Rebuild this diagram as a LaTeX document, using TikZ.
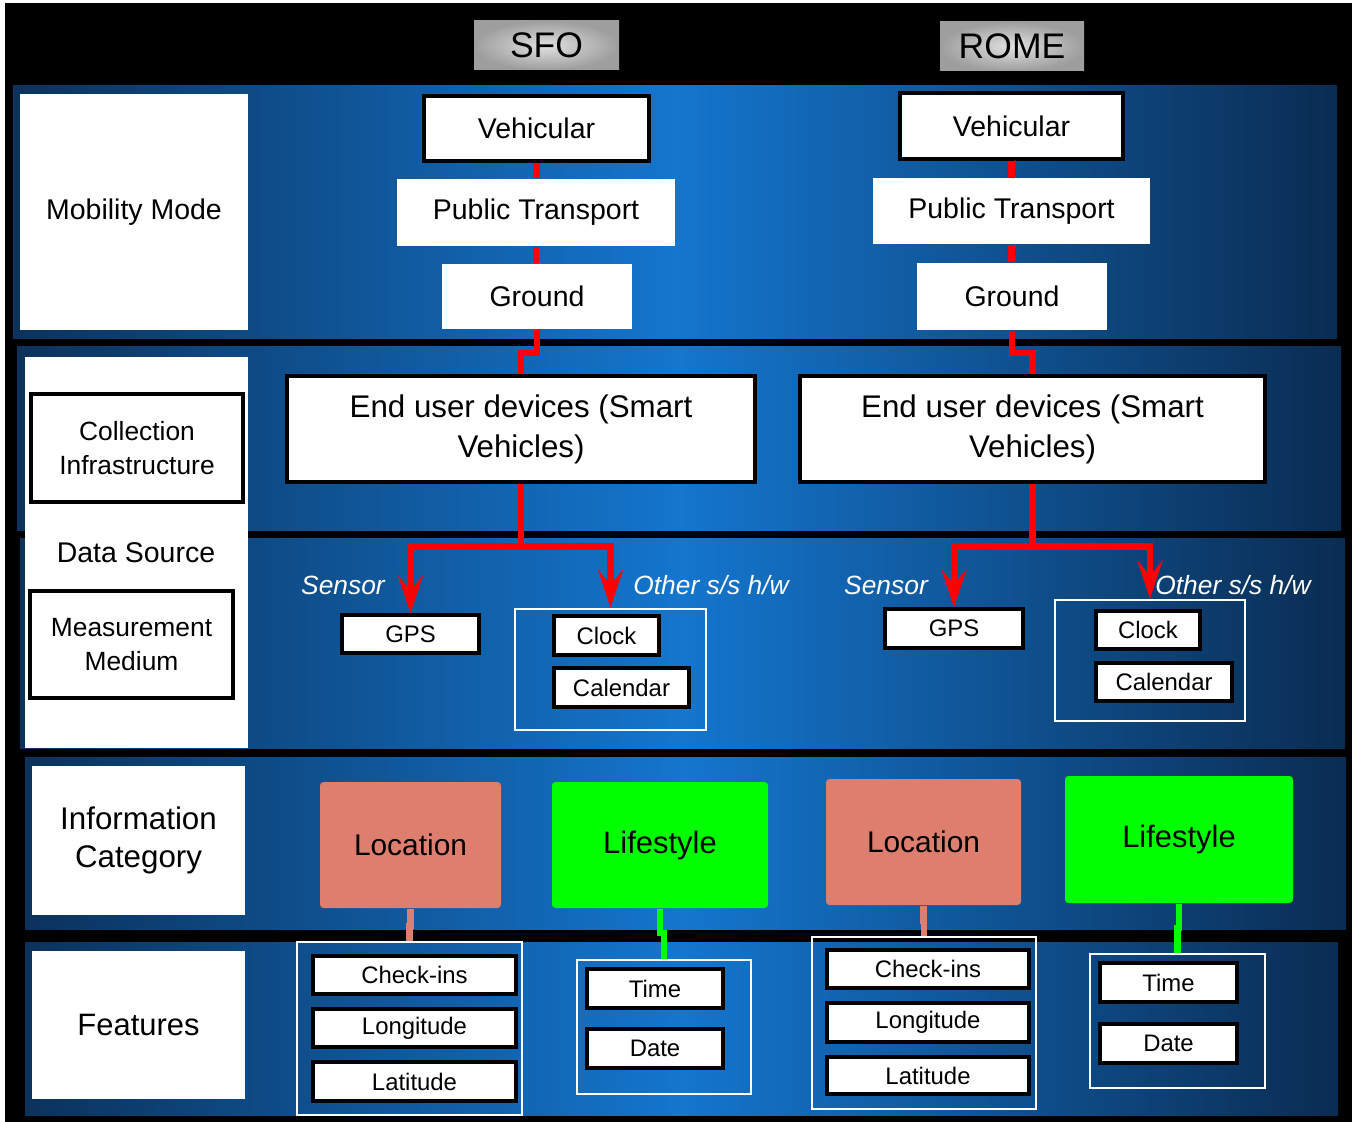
\documentclass[tikz,border=0pt]{standalone}
\usepackage{fontspec}
\setmainfont{Liberation Sans}
\usetikzlibrary{arrows.meta}
\definecolor{bandL}{RGB}{11,50,92}
\definecolor{bandM}{RGB}{20,118,206}
\definecolor{bandR}{RGB}{10,44,82}
\definecolor{salmon}{RGB}{222,126,110}
\definecolor{lime}{RGB}{0,255,0}
\def\fs#1#2{\fontsize{#1}{#2}\selectfont}
\def\cell[#1](#2,#3)(#4,#5)#6#7{\node[#1, minimum width={(#4-#2)*0.01cm}, minimum height={(#5-#3)*0.01cm}] (#6) at ({(#2+#4)/2},{(#3+#5)/2}) {#7};}

\begin{document}
\begin{tikzpicture}[x=0.01cm, y=-0.01cm,
		band/.style={left color=bandL, right color=bandR, middle color=bandM},
		plain/.style={fill=white, inner sep=0pt, align=center, font=\fs{8.1}{10}},
		framed/.style={plain, draw=black, line width=0.9pt},
		small/.style={framed, font=\fs{6.8}{8}},
		group/.style={draw=white, line width=0.7pt, inner sep=0pt},
		city/.style={inner sep=0pt, inner color=black!12, outer color=black!38, font=\fs{10.1}{12}},
		cat/.style={inner sep=0pt, rounded corners=1pt, font=\fs{8.5}{10}},
		hw/.style={white, font=\fs{7.5}{9}\itshape},
		link/.style={red, line width=1.8pt},
		loclink/.style={salmon, line width=1.8pt},
		lifelink/.style={lime, line width=1.8pt},
		tip/.style={-{Stealth[length=10.8pt, width=7.1pt, inset=4.3pt]}}]
			%%%%% START %%%%%
			\useasboundingbox (0,0) rectangle (1352,1122);
			\fill[white] (0,0) rectangle (1352,1122);
			\fill[black] (5,3) rectangle (1352,1122);
			
			% bands
			\shade[band] (13,86) rectangle (1337,339);
			\shade[band] (17,347) rectangle (1341,531);
			\shade[band] (20,539) rectangle (1345,748);
			\shade[band] (25,757) rectangle (1346,929);
			\shade[band] (25,942) rectangle (1338,1115);
			
			% left column
			\cell[plain](20,94)(248,330){mob}{Mobility Mode}
			\cell[plain](25,357)(248,748){src}{}
			\node[font=\fs{8.1}{10}] (srctxt) at (136,553) {Data Source};
			\cell[framed, font=\fs{7.5}{9.7}](31,394)(243,502){coll}{Collection\\Infrastructure}
			\cell[framed, font=\fs{7.5}{9.7}](30,591)(233,698){meas}{Measurement\\Medium}
			\cell[plain, font=\fs{8.9}{10.8}](32,766)(245,915){info}{Information\\Category}
			\cell[plain, font=\fs{8.8}{10.8}](32,951)(245,1099){feat}{Features}
			
			% SFO
			\cell[city](474,21)(619,70){sfo}{SFO}
			\cell[framed](424,96)(649,161){veh1}{Vehicular}
			\cell[plain](397,179)(675,246){pub1}{Public Transport}
			\cell[plain](442,264)(632,329){gnd1}{Ground}
			\cell[framed, font=\fs{8.9}{11.4}](287,376)(755,482){dev1}{End user devices (Smart\\Vehicles)}
			\cell[small](342,615)(479,653){gps1}{GPS}
			\cell[group](515,609)(706,730){oth1}{}
			\cell[small](554,616)(659,655){clk1}{Clock}
			\cell[small](554,668)(689,707){cal1}{Calendar}
			\node[hw] (sen1) at (343,585) {Sensor};
			\node[hw] (hw1) at (711,585) {Other s/s h/w};
			\cell[cat, fill=salmon](320,782)(501,908){loc1}{Location}
			\cell[cat, fill=lime, font=\fs{8.8}{10}](552,782)(768,908){life1}{Lifestyle}
			\cell[group](297,942)(522,1115){locg1}{}
			\cell[small](313,956)(516,994){chk1}{Check-ins}
			\cell[small](313,1009)(516,1047){lon1}{Longitude}
			\cell[small](313,1062)(516,1101){lat1}{Latitude}
			\cell[group](577,960)(751,1094){timg1}{}
			\cell[small](587,969)(723,1008){tim1}{Time}
			\cell[small](587,1029)(723,1068){dat1}{Date}
			
			% ROME
			\cell[city](940,22)(1084,71){rome}{ROME}
			\cell[framed](900,93)(1123,159){veh2}{Vehicular}
			\cell[plain](873,178)(1150,244){pub2}{Public Transport}
			\cell[plain](917,263)(1107,330){gnd2}{Ground}
			\cell[framed, font=\fs{8.9}{11.4}](800,376)(1265,482){dev2}{End user devices (Smart\\Vehicles)}
			\cell[small](885,609)(1023,648){gps2}{GPS}
			\cell[group](1055,600)(1245,721){oth2}{}
			\cell[small](1096,611)(1200,649){clk2}{Clock}
			\cell[small](1096,663)(1232,701){cal2}{Calendar}
			\node[hw] (sen2) at (886,585) {Sensor};
			\node[hw] (hw2) at (1233,585) {Other s/s h/w};
			\cell[cat, fill=salmon](826,779)(1021,905){loc2}{Location}
			\cell[cat, fill=lime, font=\fs{8.8}{10}](1065,776)(1293,903){life2}{Lifestyle}
			\cell[group](812,937)(1036,1109){locg2}{}
			\cell[small](827,950)(1029,988){chk2}{Check-ins}
			\cell[small](827,1003)(1029,1042){lon2}{Longitude}
			\cell[small](827,1057)(1029,1094){lat2}{Latitude}
			\cell[group](1090,954)(1265,1088){timg2}{}
			\cell[small](1100,963)(1237,1002){tim2}{Time}
			\cell[small](1100,1024)(1237,1063){dat2}{Date}
			
			% links
			\draw[link] (veh1.south) -- (veh1.south |- pub1.north);
			\draw[link] (pub1.south) -- (pub1.south |- gnd1.north);
			\draw[link] (gnd1.south) -- ++(0,23) -| (dev1.north);
			\draw[link] (dev1.south) -- ++(0,63) coordinate (fork1);
			\draw[link, tip] (fork1) -| (gps1.north);
			\draw[link, tip] (fork1) -| (oth1.north);
			
			\draw[link] (veh2.south) -- (veh2.south |- pub2.north);
			\draw[link] (pub2.south) -- (pub2.south |- gnd2.north);
			\draw[link] (gnd2.south) -- ++(0,22) -| (dev2.north);
			\draw[link] (dev2.south) -- ++(0,63) coordinate (fork2);
			\draw[link, tip] (fork2) -| (gps2.north);
			\draw[link, tip] (fork2) -| (oth2.north);
			
			\draw[loclink] (loc1.south) -- ++(0,17) -| (locg1.north);
			\draw[lifelink] (life1.south) -- ++(0,24) -| (timg1.north);
			\draw[loclink] (loc2.south) -- ++(0,15) -| (locg2.north);
			\draw[lifelink] (life2.south) -- ++(0,24) -| (timg2.north);
			%%%%% END %%%%%
		\end{tikzpicture}
\end{document}
